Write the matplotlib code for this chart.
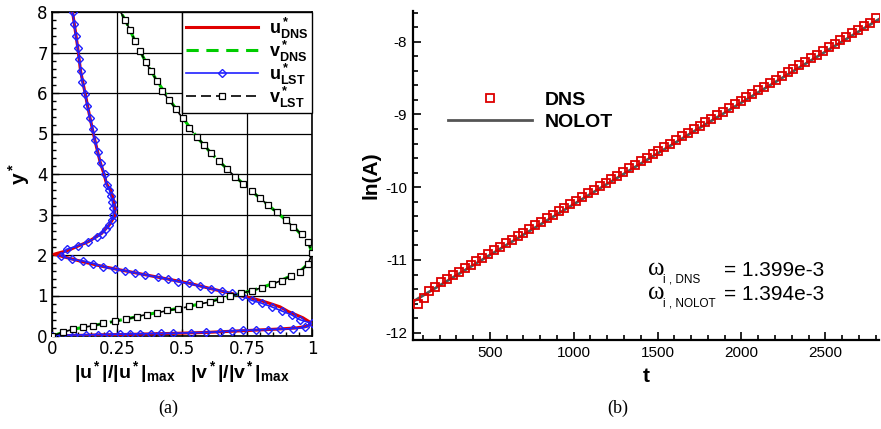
import numpy as np
import matplotlib
matplotlib.use("Agg")
import matplotlib.pyplot as plt
from matplotlib.ticker import MultipleLocator

plt.rcParams["font.family"] = ["Liberation Sans", "DejaVu Sans"]
plt.rcParams["mathtext.fontset"] = "custom"
plt.rcParams["mathtext.rm"] = "Liberation Sans"
plt.rcParams["mathtext.bf"] = "Liberation Sans:bold"
plt.rcParams["mathtext.it"] = "Liberation Sans:italic"
plt.rcParams["axes.unicode_minus"] = False

# ---- (a) eigenfunction profiles, |.|/|.|max vs y* ----
u_dns = [0.0, 0.1, 0.2, 0.3, 0.4, 0.5, 0.6, 0.7, 0.8, 0.88, 0.94, 0.98, 1.0, 0.99, 0.965,
         0.94, 0.91, 0.877, 0.84, 0.806, 0.77, 0.73, 0.69, 0.61, 0.53, 0.45, 0.36, 0.28,
         0.2, 0.12, 0.06, 0.008, 0.06, 0.1, 0.14, 0.19, 0.22, 0.24, 0.243, 0.235, 0.226,
         0.21, 0.2, 0.185, 0.165, 0.146, 0.128, 0.11, 0.099, 0.086, 0.079]
y_u_dns = [0.0, 0.015, 0.03, 0.04, 0.055, 0.07, 0.09, 0.12, 0.15, 0.175, 0.2, 0.24, 0.3, 0.35,
           0.45, 0.52, 0.6, 0.72, 0.8, 0.87, 0.93, 0.99, 1.05, 1.17, 1.30, 1.40, 1.51, 1.61,
           1.71, 1.83, 1.93, 2.02, 2.11, 2.22, 2.33, 2.53, 2.74, 2.95, 3.15, 3.4, 3.6, 3.75,
           4.0, 4.3, 4.83, 5.39, 5.97, 6.54, 7.12, 7.7, 8.0]

v_dns = [0.0, 0.08, 0.2, 0.33, 0.45, 0.57, 0.69, 0.8, 0.88, 0.95, 0.985, 1.0, 0.987, 0.93,
         0.865, 0.8, 0.737, 0.674, 0.614, 0.556, 0.504, 0.452, 0.404, 0.36, 0.319, 0.282, 0.264]
y_v_dns = [0.0, 0.165, 0.31, 0.48, 0.64, 0.79, 0.99, 1.18, 1.37, 1.58, 1.78, 2.04, 2.3, 2.7,
           3.05, 3.4, 3.75, 4.12, 4.5, 4.92, 5.38, 5.83, 6.3, 6.77, 7.29, 7.8, 8.0]

u_lst = [0.0, 0.04, 0.085, 0.13, 0.175, 0.22, 0.26, 0.30, 0.34, 0.38, 0.42, 0.467, 0.533,
         0.592, 0.646, 0.691, 0.736, 0.785, 0.832, 0.877, 0.928, 0.973, 1.0, 0.954, 0.922,
         0.883, 0.845, 0.806, 0.768, 0.730, 0.691, 0.653, 0.610, 0.569, 0.528, 0.486, 0.447,
         0.409, 0.358, 0.319, 0.281, 0.242, 0.197, 0.159, 0.121, 0.076, 0.035, 0.056, 0.101,
         0.140, 0.172, 0.191, 0.206, 0.219, 0.229, 0.236, 0.236, 0.232, 0.226, 0.221, 0.210,
         0.203, 0.187, 0.176, 0.165, 0.156, 0.146, 0.136, 0.128, 0.117, 0.110, 0.105, 0.099,
         0.092, 0.086, 0.079]
y_u_lst = [0.0, 0.02, 0.025, 0.03, 0.035, 0.04, 0.045, 0.05, 0.055, 0.058, 0.062, 0.066, 0.08,
           0.09, 0.105, 0.125, 0.14, 0.15, 0.16, 0.17, 0.185, 0.21, 0.31, 0.40, 0.52, 0.62,
           0.72, 0.81, 0.88, 0.99, 1.05, 1.11, 1.17, 1.23, 1.30, 1.34, 1.40, 1.45, 1.51, 1.56,
           1.61, 1.65, 1.71, 1.79, 1.85, 1.89, 1.98, 2.14, 2.23, 2.33, 2.44, 2.53, 2.63, 2.74,
           2.86, 2.99, 3.15, 3.32, 3.46, 3.6, 3.73, 4.0, 4.26, 4.54, 4.83, 5.12, 5.39, 5.68,
           5.97, 6.26, 6.54, 6.83, 7.12, 7.41, 7.70, 7.99]

v_lst = [0.0, 0.041, 0.079, 0.12, 0.159, 0.197, 0.242, 0.285, 0.326, 0.364, 0.405, 0.443,
         0.486, 0.528, 0.567, 0.608, 0.646, 0.685, 0.726, 0.768, 0.806, 0.845, 0.883, 0.918,
         0.954, 0.986, 1.0, 0.986, 0.960, 0.928, 0.899, 0.864, 0.832, 0.8, 0.768, 0.736,
         0.704, 0.674, 0.642, 0.612, 0.585, 0.556, 0.528, 0.503, 0.476, 0.451, 0.422, 0.403,
         0.381, 0.360, 0.338, 0.319, 0.300, 0.281, 0.264]
y_v_lst = [0.0, 0.09, 0.165, 0.215, 0.255, 0.31, 0.36, 0.41, 0.48, 0.53, 0.57, 0.63, 0.67,
           0.73, 0.79, 0.84, 0.91, 0.99, 1.05, 1.12, 1.19, 1.28, 1.37, 1.48, 1.59, 1.79, 2.04,
           2.31, 2.51, 2.70, 2.86, 3.05, 3.23, 3.40, 3.59, 3.75, 3.93, 4.12, 4.32, 4.51, 4.72,
           4.92, 5.14, 5.38, 5.60, 5.83, 6.06, 6.30, 6.54, 6.77, 7.04, 7.29, 7.56, 7.80, 8.0]

x_ticks_a = [0, 0.25, 0.5, 0.75, 1]
x_ticklabels_a = ["0", "0.25", "0.5", "0.75", "1"]

# ---- (b) amplitude growth ----
t_dns = [70, 105, 140, 175, 210, 245, 280, 315, 350, 385, 420, 455, 490, 525, 560, 595, 630,
         665, 700, 735, 770, 805, 840, 875, 910, 945, 980, 1015, 1050, 1085, 1120, 1155, 1190,
         1225, 1260, 1295, 1330, 1365, 1400, 1435, 1470, 1505, 1540, 1575, 1610, 1645, 1680,
         1715, 1750, 1785, 1820, 1855, 1890, 1925, 1960, 1995, 2030, 2065, 2100, 2135, 2170,
         2205, 2240, 2275, 2310, 2345, 2380, 2415, 2450, 2485, 2520, 2555, 2590, 2625, 2660,
         2695, 2730, 2765, 2800]
lnA_dns = [-11.60, -11.52, -11.43, -11.37, -11.308, -11.259, -11.210, -11.161, -11.112,
           -11.063, -11.014, -10.966, -10.917, -10.868, -10.819, -10.770, -10.721, -10.672,
           -10.623, -10.574, -10.525, -10.476, -10.427, -10.378, -10.329, -10.281, -10.232,
           -10.183, -10.134, -10.085, -10.036, -9.987, -9.938, -9.889, -9.840, -9.791, -9.742,
           -9.694, -9.645, -9.596, -9.547, -9.498, -9.449, -9.400, -9.351, -9.302, -9.253,
           -9.204, -9.155, -9.107, -9.058, -9.009, -8.960, -8.911, -8.862, -8.813, -8.764,
           -8.715, -8.666, -8.617, -8.568, -8.520, -8.471, -8.422, -8.373, -8.324, -8.275,
           -8.226, -8.177, -8.128, -8.079, -8.030, -7.981, -7.932, -7.884, -7.835, -7.786,
           -7.737, -7.670]
t_nolot = [40, 2820]
lnA_nolot = [-11.575, -7.69]

W, H = 881, 429
fig = plt.figure(figsize=(W / 100, H / 100), dpi=100)


def fx(x):
    return x / W


def fy(y):
    return 1 - y / H


# ---------------- panel (a) ----------------
ax1 = fig.add_axes([fx(52), fy(336), 260 / W, 324 / H])
ax1.plot(u_dns, y_u_dns, color="#e00000", lw=2.2, label=r"$\mathbf{u^*_{DNS}}$", zorder=3)
ax1.plot(v_dns, y_v_dns, color="#00cc00", lw=2.2, ls=(0, (4, 2.5)),
         label=r"$\mathbf{v^*_{DNS}}$", zorder=3)
ax1.plot(u_lst, y_u_lst, color="#2020ff", lw=1.2, marker="D", ms=4.0, mfc="none", mew=1.0,
         label=r"$\mathbf{u^*_{LST}}$", zorder=4)
ax1.plot(v_lst, y_v_lst, color="black", lw=1.2, ls=(0, (6, 3)), marker="s", ms=4.4,
         mfc="white", mew=0.9, markevery=slice(0, -1), label=r"$\mathbf{v^*_{LST}}$", zorder=4)
ax1.set_xlim(0, 1)
ax1.set_ylim(0, 8)
ax1.set_xticks(x_ticks_a, x_ticklabels_a)
ax1.xaxis.set_minor_locator(MultipleLocator(0.05))
ax1.yaxis.set_major_locator(MultipleLocator(1))
ax1.yaxis.set_minor_locator(MultipleLocator(0.2))
ax1.grid(True, which="major", color="black", lw=0.9)
ax1.tick_params(which="both", direction="in", labelsize=12, width=1, pad=3)
ax1.tick_params(which="major", length=5)
ax1.tick_params(which="minor", length=3)
for lab in ax1.get_xticklabels() + ax1.get_yticklabels():
    lab.set_family("DejaVu Sans")
for s in ax1.spines.values():
    s.set_linewidth(1.2)
ax1.set_xlabel(r"$\mathbf{|u^*|/|u^*|_{max}}$   $\mathbf{|v^*|/|v^*|_{max}}$",
               fontsize=14, labelpad=1)
ax1.set_ylabel(r"$\mathbf{y^*}$", fontsize=15, labelpad=4)
leg = ax1.legend(loc="upper right", bbox_to_anchor=(1, 1), borderaxespad=0, fontsize=13,
                 handlelength=4.0, handletextpad=0.6, borderpad=0.2, labelspacing=-0.12,
                 fancybox=False, framealpha=1, edgecolor="black")
leg.get_frame().set_linewidth(1.0)
leg.set_zorder(10)

# ---------------- panel (b) ----------------
ax2 = fig.add_axes([fx(412.7), fy(340), 466.3 / W, 328.8 / H])
ax2.plot(t_nolot, lnA_nolot, color="#555555", lw=2.0, label="NOLOT", zorder=2)
ax2.plot(t_dns, lnA_dns, ls="none", marker="s", ms=5.3, mfc="none", mec="#dd0000", mew=1.3,
         label="DNS", zorder=3)
ax2.set_xlim(40, 2820)
ax2.set_ylim(-12.1, -7.58)
ax2.xaxis.set_major_locator(MultipleLocator(500))
ax2.xaxis.set_minor_locator(MultipleLocator(100))
ax2.yaxis.set_major_locator(MultipleLocator(1))
ax2.yaxis.set_minor_locator(MultipleLocator(0.2))
ax2.spines["top"].set_visible(False)
ax2.spines["right"].set_visible(False)
for s in ("left", "bottom"):
    ax2.spines[s].set_linewidth(1.6)
ax2.tick_params(which="both", direction="in", labelsize=11, width=1.2, pad=4)
ax2.tick_params(which="major", length=6)
ax2.tick_params(which="minor", length=3.5)
ax2.set_xlabel("t", fontsize=15, fontweight="bold", labelpad=5)
ax2.set_ylabel("ln(A)", fontsize=15, fontweight="bold", labelpad=3)
h, l = ax2.get_legend_handles_labels()
ax2.legend([h[1], h[0]], [l[1], l[0]], loc="center left",
           bbox_to_anchor=(fx(448), fy(111)), bbox_transform=fig.transFigure,
           frameon=False, borderaxespad=0, borderpad=0, handlelength=4.3,
           handletextpad=0.7, labelspacing=0.25, prop={"weight": "bold", "size": 14})

# growth-rate annotation
for yb, sub, val in ((275, "i , DNS", "= 1.399e-3"), (299, "i , NOLOT", "= 1.394e-3")):
    fig.text(fx(648), fy(yb), "ω", family="Liberation Serif", fontsize=18, va="baseline")
    fig.text(fx(663), fy(yb + 8), sub, fontsize=8.5, va="baseline")
    fig.text(fx(724), fy(yb + 1), val, fontsize=15, va="baseline")

fig.text(fx(168), fy(408), "(a)", family="Liberation Serif", fontsize=13, ha="center",
         va="center")
fig.text(fx(618), fy(408), "(b)", family="Liberation Serif", fontsize=13, ha="center",
         va="center")

fig.savefig("out.png", dpi=100)
